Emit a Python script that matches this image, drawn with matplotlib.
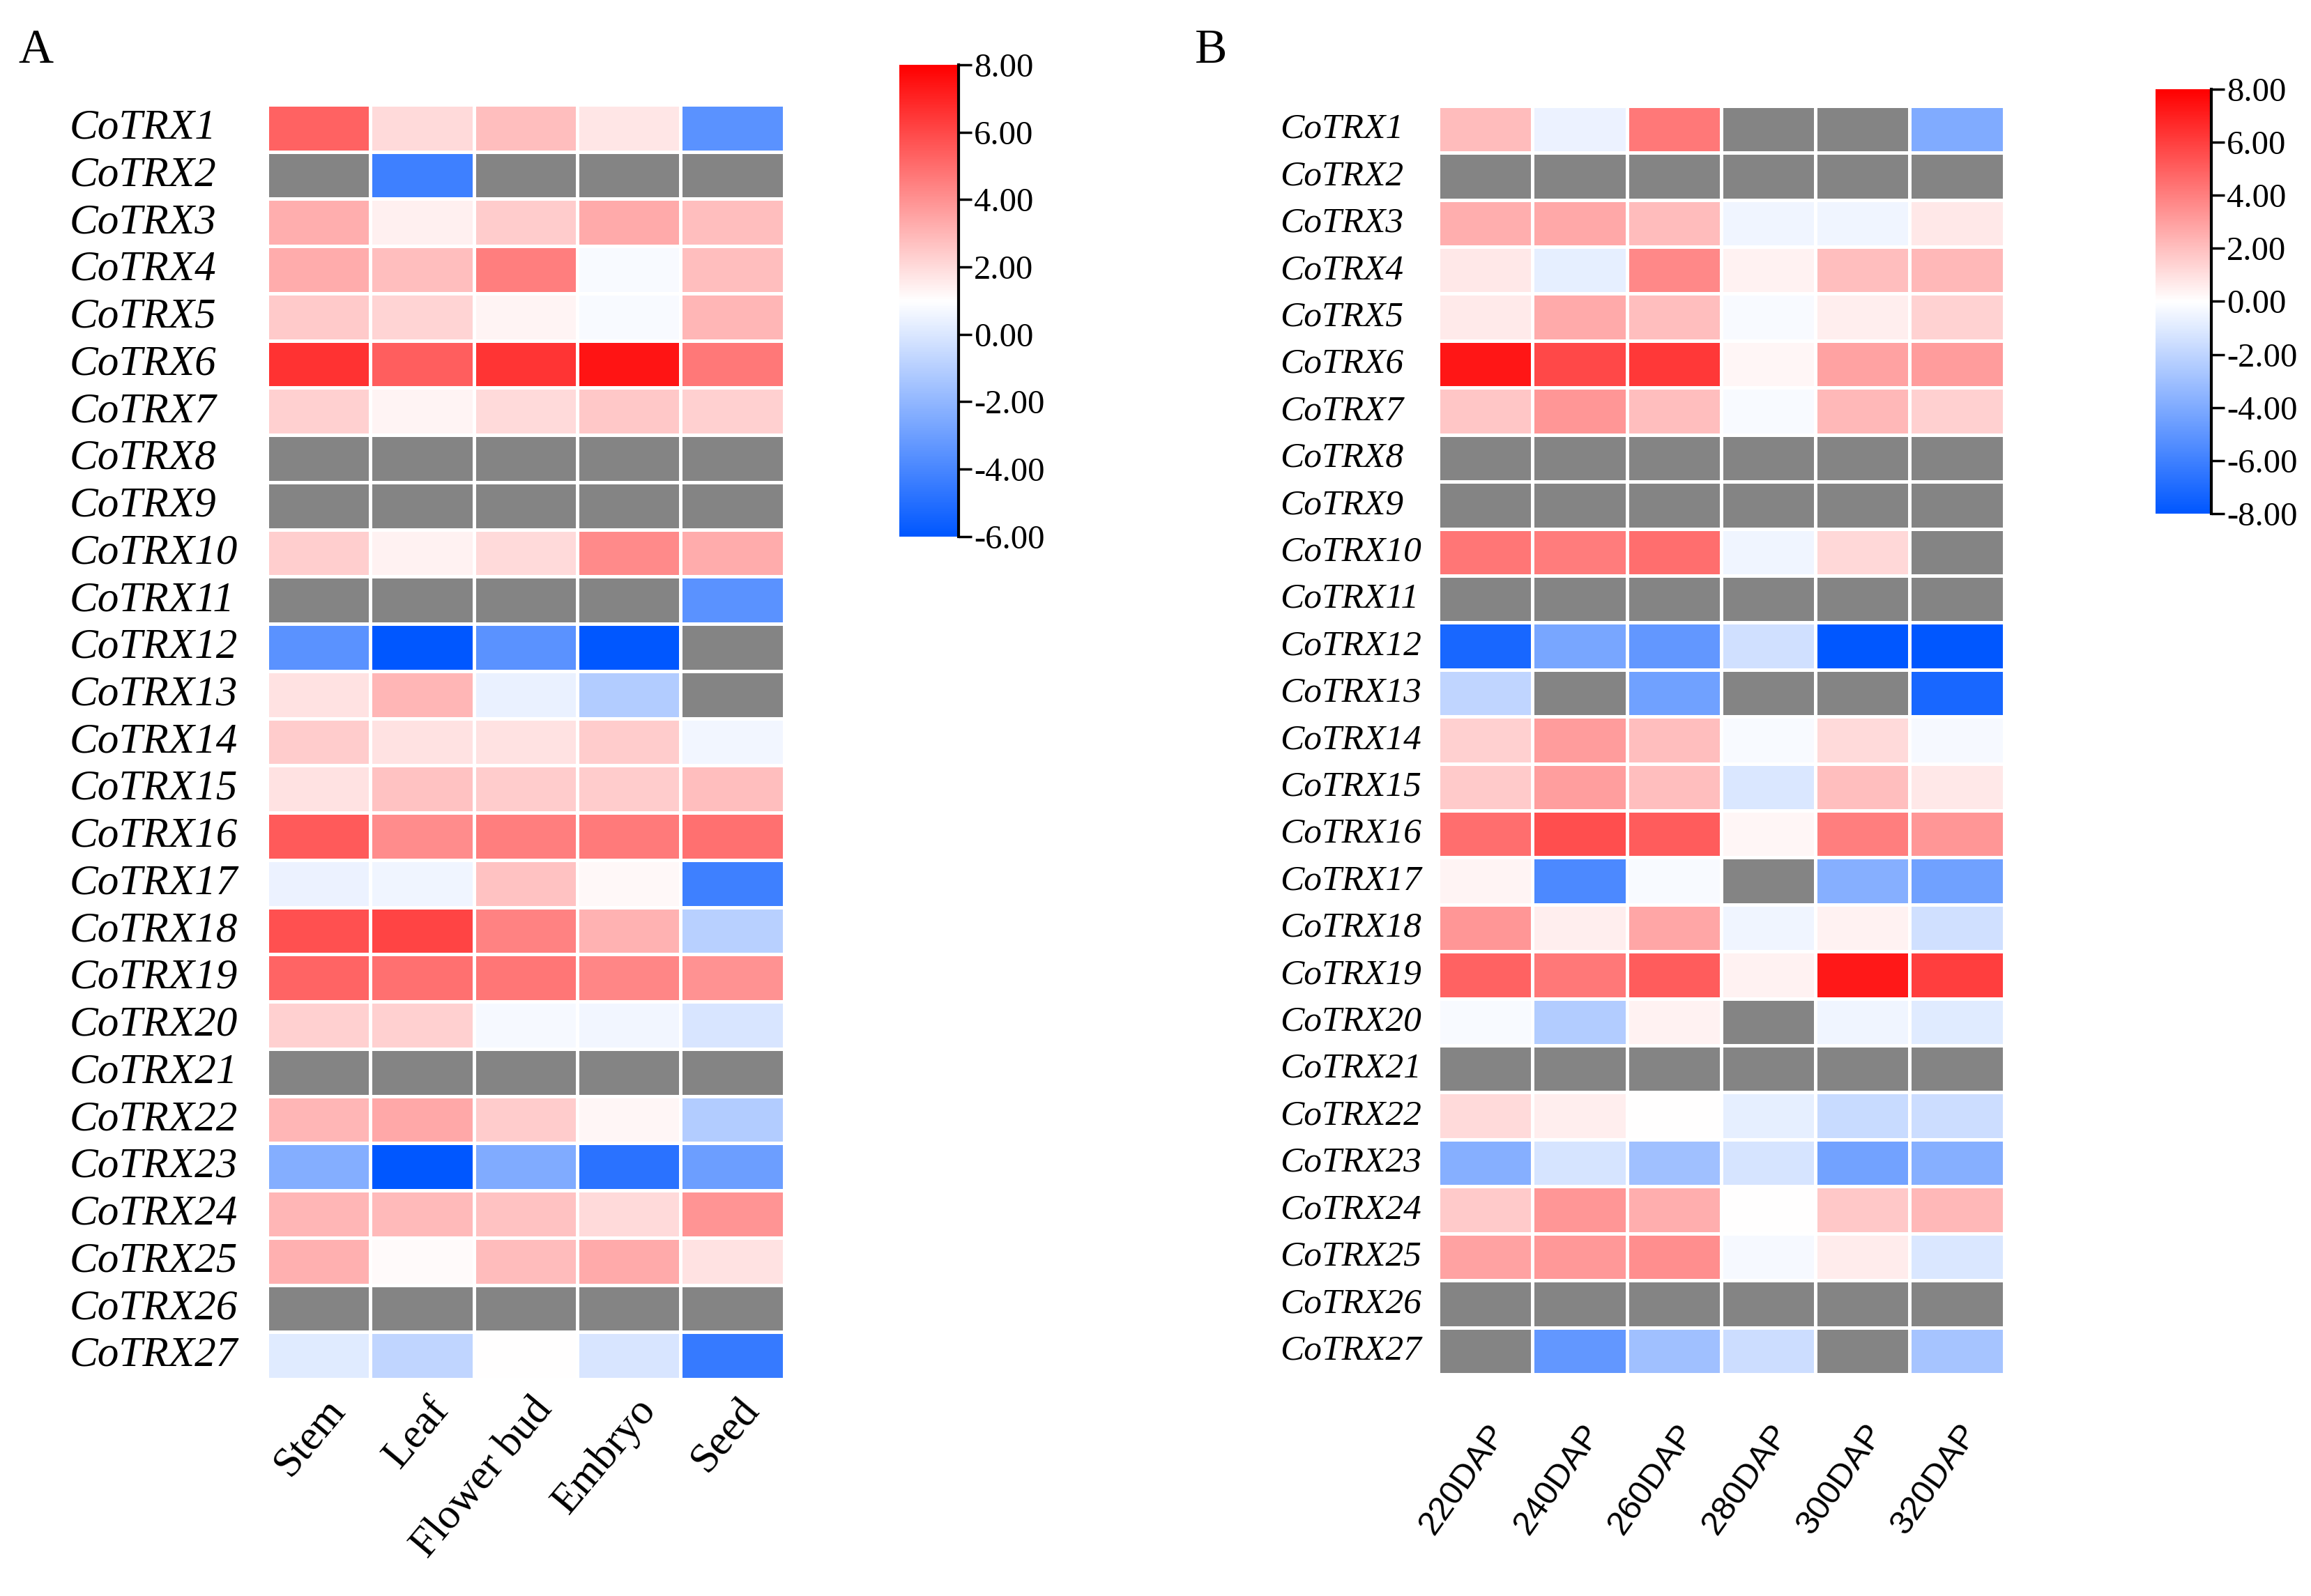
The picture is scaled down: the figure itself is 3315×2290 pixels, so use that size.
import numpy as np
import matplotlib
matplotlib.use("Agg")
import matplotlib.pyplot as plt
from matplotlib.colors import LinearSegmentedColormap, Normalize
from matplotlib.transforms import blended_transform_factory, offset_copy

plt.rcParams["axes.unicode_minus"] = False

nan = np.nan

genes = ["CoTRX%d" % i for i in range(1, 28)]
tissues = ["Stem", "Leaf", "Flower bud", "Embryo", "Seed"]
stages = ["220DAP", "240DAP", "260DAP", "280DAP", "300DAP", "320DAP"]

# panel A: expression in tissues (gray = no data)
tissue_values = [
    [5.3, 2.0, 2.8, 1.7, -3.5],
    [nan, -4.3, nan, nan, nan],
    [3.2, 1.4, 2.4, 3.3, 2.8],
    [3.25, 2.8, 4.5, 0.8, 2.75],
    [2.45, 2.15, 1.3, 0.8, 3.0],
    [6.6, 5.4, 6.55, 7.4, 4.7],
    [2.3, 1.3, 2.0, 2.5, 2.3],
    [nan, nan, nan, nan, nan],
    [nan, nan, nan, nan, nan],
    [2.35, 1.35, 2.0, 4.2, 3.25],
    [nan, nan, nan, nan, -3.5],
    [-3.5, -6.0, -3.5, -6.0, nan],
    [1.8, 3.0, 0.45, -1.1, nan],
    [2.4, 1.8, 1.8, 2.4, 0.65],
    [1.8, 2.65, 2.4, 2.4, 2.8],
    [5.5, 4.15, 4.5, 4.65, 4.9],
    [0.5, 0.6, 2.65, 1.2, -4.3],
    [5.8, 6.1, 4.4, 3.1, -0.95],
    [5.25, 4.9, 4.75, 4.3, 4.0],
    [2.3, 2.3, 0.75, 0.65, -0.05],
    [nan, nan, nan, nan, nan],
    [3.0, 3.4, 2.4, 1.25, -1.1],
    [-2.35, -6.0, -2.5, -4.8, -3.0],
    [3.0, 2.9, 2.65, 2.0, 3.9],
    [3.15, 1.15, 2.85, 3.35, 1.8],
    [nan, nan, nan, nan, nan],
    [0.15, -0.75, 1.0, -0.05, -4.5],
]

# panel B: expression over seed development
stage_values = [
    [2.1, -0.6, 4.2, nan, nan, -4.0],
    [nan, nan, nan, nan, nan, nan],
    [2.5, 2.7, 2.1, -0.45, -0.45, 0.7],
    [0.7, -0.8, 3.7, 0.4, 2.0, 2.2],
    [0.65, 2.65, 2.0, -0.2, 0.55, 1.4],
    [7.3, 5.7, 6.2, 0.3, 2.9, 3.1],
    [1.8, 3.3, 2.0, -0.2, 2.2, 1.45],
    [nan, nan, nan, nan, nan, nan],
    [nan, nan, nan, nan, nan, nan],
    [4.3, 4.1, 4.5, -0.45, 1.2, nan],
    [nan, nan, nan, nan, nan, nan],
    [-7.2, -4.2, -4.9, -1.5, -8.0, -8.0],
    [-2.0, nan, -4.5, nan, nan, -7.2],
    [1.45, 3.1, 2.0, -0.2, 1.15, -0.3],
    [1.65, 3.0, 2.0, -1.15, 2.0, 0.7],
    [4.5, 5.5, 5.1, 0.3, 4.0, 3.3],
    [0.35, -5.6, -0.2, nan, -3.8, -4.5],
    [3.3, 0.55, 2.8, -0.45, 0.4, -1.5],
    [4.9, 4.2, 5.1, 0.4, 7.2, 6.0],
    [-0.2, -2.4, 0.4, nan, -0.45, -0.95],
    [nan, nan, nan, nan, nan, nan],
    [1.15, 0.55, 0.0, -0.8, -1.7, -1.6],
    [-3.8, -1.3, -3.0, -1.3, -4.4, -3.8],
    [1.65, 3.3, 2.5, 0.0, 1.7, 2.2],
    [2.9, 3.2, 3.55, -0.3, 0.6, -1.15],
    [nan, nan, nan, nan, nan, nan],
    [nan, -4.9, -3.0, -1.6, nan, -2.8],
]

cmap = LinearSegmentedColormap.from_list(
    "bwr2", [(0.0, 0.34, 1.0), (1.0, 1.0, 1.0), (1.0, 0.0, 0.0)], N=256)
cmap = cmap.with_extremes(bad="#848484")

serif = "Liberation Serif"
sans = "Liberation Sans"

fig = plt.figure(figsize=(33.15, 22.9), dpi=100)


def draw_panel(rect, values, cols, vmin, vmax, label_x, label_size,
               xfont, xsize, xrot, xdx, xdy):
    ax = fig.add_axes(rect)
    data = np.ma.masked_invalid(np.array(values, dtype=float))
    norm = Normalize(vmin=vmin, vmax=vmax)
    ax.pcolormesh(data, cmap=cmap, norm=norm,
                  edgecolors="white", linewidth=3.5)
    ax.set_xlim(0, len(cols))
    ax.set_ylim(len(genes), 0)
    for s in ax.spines.values():
        s.set_visible(False)
    ax.set_xticks([])
    ax.set_yticks([])
    # column labels, rotated, hanging below the cells
    xtr = offset_copy(ax.transData, fig=fig, x=xdx, y=-xdy, units="points")
    for j, c in enumerate(cols):
        ax.text(j + 0.5, len(genes), c, transform=xtr, rotation=xrot,
                rotation_mode="anchor", ha="right", va="top",
                family=xfont, fontsize=xsize)
    # gene labels, left aligned
    tr = blended_transform_factory(fig.transFigure, ax.transData)
    for i, g in enumerate(genes):
        ax.text(label_x, i + 0.5, g, transform=tr, ha="left", va="center",
                family=serif, style="italic", fontsize=label_size)
    return norm


def draw_cbar(rect, norm, ticks):
    cax = fig.add_axes(rect)
    sm = plt.cm.ScalarMappable(norm=norm, cmap=cmap)
    cb = fig.colorbar(sm, cax=cax, ticks=ticks)
    cb.outline.set_visible(False)
    cb.ax.plot([1, 1], [0, 1], transform=cb.ax.transAxes, color="black",
               lw=3, clip_on=False)
    cb.ax.tick_params(length=14, width=2.5, pad=2, labelsize=35)
    cb.ax.set_yticklabels(["%.2f" % t for t in ticks], family=serif)


# panel A
norm_a = draw_panel([0.1155, 0.1358, 0.2238, 0.7987], tissue_values,
                    tissues, -6, 8, 0.030, 44, serif, 44, 50, 5, 12)
draw_cbar([0.3891, 0.6638, 0.0256, 0.2956], norm_a, [8, 6, 4, 2, 0, -2, -4, -6])

# panel B
norm_b = draw_panel([0.6223, 0.1389, 0.2449, 0.7948], stage_values,
                    stages, -8, 8, 0.554, 37, sans, 35, 55, 1, 46)
draw_cbar([0.9327, 0.6782, 0.0241, 0.2659], norm_b,
          [8, 6, 4, 2, 0, -2, -4, -6, -8])

fig.text(0.008, 0.968, "A", family=serif, fontsize=50, ha="left", va="center")
fig.text(0.517, 0.968, "B", family=serif, fontsize=50, ha="left", va="center")

fig.savefig("out.png", dpi=100)
